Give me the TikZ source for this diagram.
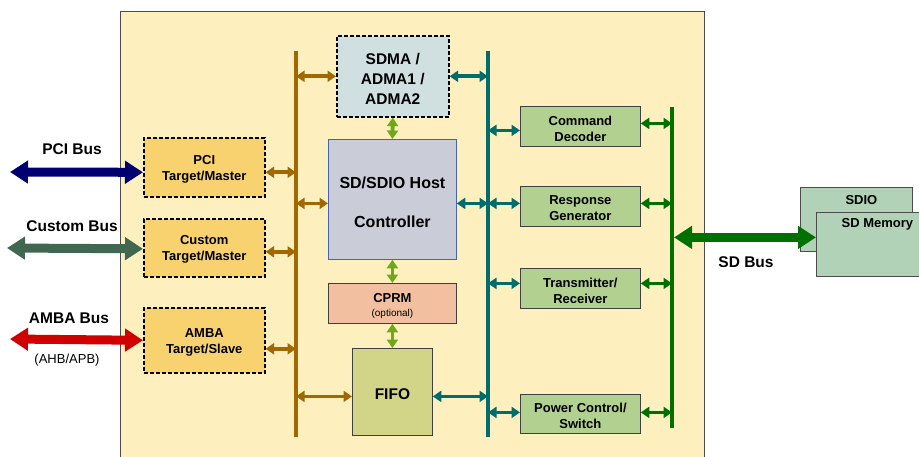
\documentclass[tikz,border=0pt]{standalone}
\usepackage{fontspec}
\setmainfont{Liberation Sans}
\usetikzlibrary{arrows.meta}
\definecolor{cream}{RGB}{253,240,190}
\definecolor{boxorange}{RGB}{249,210,112}
\definecolor{sdmafill}{RGB}{208,224,224}
\definecolor{hostfill}{RGB}{202,205,216}
\definecolor{hostedge}{RGB}{70,100,180}
\definecolor{cprmfill}{RGB}{242,192,160}
\definecolor{fifofill}{RGB}{210,212,136}
\definecolor{rboxfill}{RGB}{178,208,144}
\definecolor{cardfill}{RGB}{178,210,184}
\definecolor{busbrown}{RGB}{160,104,0}
\definecolor{busteal}{RGB}{0,108,108}
\definecolor{busgreen}{RGB}{0,112,0}
\definecolor{lgreen}{RGB}{112,168,24}
\definecolor{pcinavy}{RGB}{0,0,112}
\definecolor{customgr}{RGB}{64,104,80}
\definecolor{ambared}{RGB}{208,0,0}
\tikzset{
 blk/.style={anchor=north west, inner sep=0pt},
 txt/.style={inner sep=0pt, align=center, font=\bfseries\fontsize{13}{16}\selectfont},
 dashblk/.style={blk, draw=black, line width=1.6pt, dash pattern=on 4pt off 2pt},
 solidblk/.style={blk, draw=black!75, line width=0.8pt},
 busline/.style={line width=4pt},
 sarr/.style={line width=3.8pt, {Triangle[length=8.5pt,width=11pt]}-{Triangle[length=8.5pt,width=11pt]}},
 barr/.style={line width=9pt, {Triangle[length=18pt,width=22pt]}-{Triangle[length=18pt,width=22pt]}},
 lbl/.style={inner sep=0pt, font=\bfseries\fontsize{15.5}{18}\selectfont},
}
\begin{document}
\begin{tikzpicture}[x=1pt,y=-1pt]
\useasboundingbox (0,0) rectangle (919,456);
\fill[white] (0,0) rectangle (919,456);
\draw[fill=cream, draw=black!70, line width=0.8pt] (120,11) rectangle (704,470);

% buses
\coordinate (bBt) at (296,51); \coordinate (bBb) at (296,437);
\coordinate (bTt) at (488,51); \coordinate (bTb) at (488,437);
\coordinate (bGt) at (672,107); \coordinate (bGb) at (672,428);
\draw[busline, busbrown] (bBt) -- (bBb);
\draw[busline, busteal] (bTt) -- (bTb);
\draw[busline, busgreen] (bGt) -- (bGb);

% left blocks
\node[dashblk, fill=boxorange, minimum width=121pt, minimum height=59pt] (pci) at (143,137) {};
\node[txt] (pcit) at ([yshift=-2pt]pci.center) {PCI\\Target/Master};
\node[dashblk, fill=boxorange, minimum width=121pt, minimum height=58pt] (custom) at (143,218) {};
\node[txt] (customt) at ([yshift=-2pt]custom.center) {Custom\\Target/Master};
\node[dashblk, fill=boxorange, minimum width=121pt, minimum height=65pt] (amba) at (143,307) {};
\node[txt] (ambat) at ([yshift=-2pt]amba.center) {AMBA\\Target/Slave};

% centre blocks
\node[dashblk, fill=sdmafill, minimum width=112pt, minimum height=81pt] (sdma) at (336,35) {};
\node[txt, font=\bfseries\fontsize{15.5}{20}\selectfont] (sdmat) at ([yshift=-2.5pt]sdma.center) {SDMA /\\ADMA1 /\\ADMA2};
\node[blk, draw=hostedge, line width=0.8pt, fill=hostfill, minimum width=128pt, minimum height=120pt] (host) at (328,139) {};
\node[txt, font=\bfseries\fontsize{16}{19}\selectfont] (hostt) at ([yshift=-3pt]host.center) {SD/SDIO Host\\[20pt]Controller};
\node[solidblk, fill=cprmfill, minimum width=128pt, minimum height=40pt] (cprm) at (328,283) {};
\node[txt, font=\bfseries\fontsize{13}{14}\selectfont] (cprmt) at ([yshift=-2.5pt]cprm.center) {CPRM\\{\mdseries\fontsize{10}{12}\selectfont(optional)}};
\node[solidblk, fill=fifofill, minimum width=80pt, minimum height=87pt] (fifo) at (352,348) {};
\node[txt, font=\bfseries\fontsize{15.5}{18}\selectfont] (fifot) at ([yshift=-2.5pt]fifo.center) {FIFO};

% right blocks
\node[solidblk, fill=rboxfill, minimum width=120pt, minimum height=40pt] (cmd) at (520,106) {};
\node[txt] (cmdt) at ([yshift=-2pt]cmd.center) {Command\\Decoder};
\node[solidblk, fill=rboxfill, minimum width=120pt, minimum height=40pt] (resp) at (520,186) {};
\node[txt] (respt) at ([yshift=-2pt]resp.center) {Response\\Generator};
\node[solidblk, fill=rboxfill, minimum width=120pt, minimum height=40pt] (trx) at (520,268) {};
\node[txt] (trxt) at ([yshift=-2pt]trx.center) {Transmitter/\\Receiver};
\node[solidblk, fill=rboxfill, minimum width=120pt, minimum height=39pt] (pwr) at (520,394) {};
\node[txt] (pwrt) at ([yshift=-2pt]pwr.center) {Power Control/\\Switch};

% cards
\node[blk, draw=black!70, line width=0.8pt, fill=cardfill, minimum width=112pt, minimum height=64pt] (sdio) at (800,187) {};
\node[txt] (sdiotxt) at ([xshift=5pt,yshift=-13.5pt]sdio.north) {SDIO};
\node[blk, draw=black!70, line width=0.8pt, fill=cardfill, minimum width=122pt, minimum height=64pt] (sdmem) at (816,212) {};
\node[txt] (sdmemtxt) at ([yshift=-12.5pt]sdmem.north) {SD Memory};

% brown arrows
\draw[sarr, busbrown] ([yshift=-5pt]pci.east) -- ([yshift=-5pt]pci.east -| bBt);
\draw[sarr, busbrown] ([yshift=-4pt]custom.east) -- ([yshift=-4pt]custom.east -| bBt);
\draw[sarr, busbrown] ([yshift=-8.5pt]amba.east) -- ([yshift=-8.5pt]amba.east -| bBt);
\draw[sarr, busbrown] (sdma.west -| bBt) -- (sdma.west);
\draw[sarr, busbrown] ([yshift=-4pt]host.west -| bBt) -- ([yshift=-4pt]host.west);
\draw[sarr, busbrown] ([yshift=-4.5pt]fifo.west -| bBt) -- ([yshift=-4.5pt]fifo.west);

% teal arrows
\draw[sarr, busteal] (sdma.east) -- (sdma.east -| bTt);
\draw[sarr, busteal] ([yshift=-4pt]host.east) -- ([yshift=-4pt]host.east -| bTt);
\draw[sarr, busteal] ([yshift=-4.5pt]fifo.east) -- ([yshift=-4.5pt]fifo.east -| bTt);
\draw[sarr, busteal] ([yshift=-4pt]cmd.west -| bTt) -- ([yshift=-4pt]cmd.west);
\draw[sarr, busteal] ([yshift=3pt]resp.west -| bTt) -- ([yshift=3pt]resp.west);
\draw[sarr, busteal] ([yshift=5pt]trx.west -| bTt) -- ([yshift=5pt]trx.west);
\draw[sarr, busteal] ([yshift=1.5pt]pwr.west -| bTt) -- ([yshift=1.5pt]pwr.west);

% green arrows
\draw[sarr, busgreen] ([yshift=3pt]cmd.east) -- ([yshift=3pt]cmd.east -| bGt);
\draw[sarr, busgreen] ([yshift=3pt]resp.east) -- ([yshift=3pt]resp.east -| bGt);
\draw[sarr, busgreen] ([yshift=5pt]trx.east) -- ([yshift=5pt]trx.east -| bGt);
\draw[sarr, busgreen] ([yshift=1.5pt]pwr.east) -- ([yshift=1.5pt]pwr.east -| bGt);

% light green vertical arrows
\draw[sarr, lgreen] (sdma.south) -- (host.north);
\draw[sarr, lgreen] (host.south) -- (cprm.north);
\draw[sarr, lgreen] (cprm.south) -- (fifo.north);

% SD bus
\draw[barr, busgreen] ([xshift=2pt,yshift=7pt]sdmem.west -| bGt) -- ([yshift=7pt]sdmem.west);
\node[lbl] (sdbus) at (746,262) {SD Bus};

% external buses
\coordinate (pcil) at (10,172);
\coordinate (custl) at (7,248);
\coordinate (ambal) at (10,339);
\draw[barr, pcinavy] (pcil) -- ([yshift=-5pt]pci.west);
\draw[barr, customgr] (custl) -- ([yshift=-1pt]custom.west);
\draw[barr, ambared] (ambal) -- (amba.west);
\node[lbl] (pcilbl) at (72,149.5) {PCI Bus};
\node[lbl] (custlbl) at (72,226.5) {Custom Bus};
\node[lbl] (ambalbl) at (69,318) {AMBA Bus};
\node[inner sep=0pt, font=\fontsize{13}{15}\selectfont] (ahb) at (67,360) {(AHB/APB)};
\end{tikzpicture}
\end{document}
